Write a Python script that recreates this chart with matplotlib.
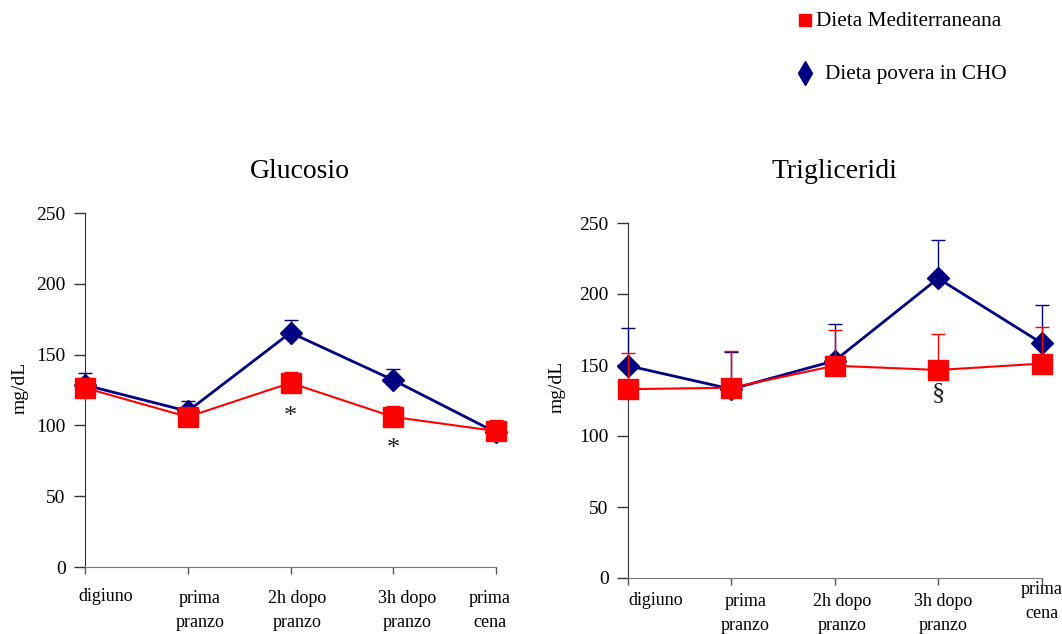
import matplotlib
matplotlib.use("Agg")
import matplotlib.pyplot as plt
from matplotlib.lines import Line2D
from matplotlib.transforms import ScaledTranslation

categories = ["digiuno", "prima\npranzo", "2h dopo\npranzo", "3h dopo\npranzo", "prima\ncena"]
yticks = [0, 50, 100, 150, 200, 250]

# Glucosio
glu_med = [126.5, 106, 130, 106, 96]
glu_med_err = [7, 0, 7.5, 8, 7.5]
glu_cho = [128.5, 110, 165.5, 132, 95]
glu_cho_err = [8.5, 7.5, 9, 8, 8]
glu_marks = [("*", 2, 106), ("*", 3, 83)]

# Trigliceridi
tri_med = [133, 134, 149.5, 146.5, 151]
tri_med_err = [25.5, 26, 25, 25.5, 25.5]
tri_cho = [149.5, 133, 153, 211, 165.5]
tri_cho_err = [26.5, 26, 26, 27, 26.5]
tri_marks = [("§", 3, 130)]

RED = "#FF0000"
NAVY = "#000080"
SERIF = ["Liberation Serif", "DejaVu Serif"]
plt.rcParams["font.family"] = SERIF

W, H = 1062, 634
fig = plt.figure(figsize=(W / 100, H / 100), dpi=100)


def panel(rect, title, title_xy, ylab_xy, med, med_err, cho, cho_err, marks,
          xoffs, yoffs):
    ax = fig.add_axes(rect)
    x = list(range(len(categories)))
    ax.errorbar(x, cho, yerr=[[0] * len(cho), cho_err], color=NAVY, lw=2,
                marker="D", ms=11, mfc=NAVY, mec=NAVY, ecolor=NAVY,
                elinewidth=1, capsize=5, capthick=1, clip_on=False, zorder=3)
    ax.errorbar(x, med, yerr=[[0] * len(med), med_err], color=RED, lw=1.5,
                marker="s", ms=14, mfc=RED, mec=RED, ecolor=RED,
                elinewidth=1, capsize=5, capthick=1, clip_on=False, zorder=4)
    for s, xi, yi in marks:
        ax.text(xi, yi, s, ha="center", va="center", fontsize=19, color="#202020")
    ax.set_xlim(0, len(categories) - 1)
    ax.set_ylim(0, 250)
    ax.set_yticks(yticks)
    ax.set_yticklabels([str(v) for v in yticks], fontsize=14)
    ax.set_xticks(x)
    ax.set_xticklabels(categories, fontsize=13, linespacing=1.55)
    for sp in ("top", "right"):
        ax.spines[sp].set_visible(False)
    ax.spines["left"].set_color("#333333")
    ax.spines["bottom"].set_color("#777777")
    ax.tick_params(axis="y", direction="out", length=8, width=1, color="#333333", pad=6)
    ax.tick_params(axis="x", direction="out", length=5, width=1, color="#555555", pad=8)
    for lab, dx, dy in zip(ax.get_xticklabels(), xoffs, yoffs):
        lab.set_transform(lab.get_transform() +
                          ScaledTranslation(dx / 100, -dy / 100, fig.dpi_scale_trans))
    fig.text(title_xy[0] / W, 1 - title_xy[1] / H, title, fontsize=20,
             ha="center", va="center")
    fig.text(ylab_xy[0] / W, 1 - ylab_xy[1] / H, "mg/dL", fontsize=14,
             ha="center", va="center", rotation=90)
    return ax


panel([85 / W, 1 - 567 / H, 411 / W, 354 / H], "Glucosio", (300, 172), (20, 388),
      glu_med, glu_med_err, glu_cho, glu_cho_err, glu_marks,
      [21, 12, 7, 14, -6], [3, 5, 5, 5, 5])
panel([628 / W, 1 - 578 / H, 413.5 / W, 355 / H], "Trigliceridi", (834, 172), (557, 387),
      tri_med, tri_med_err, tri_cho, tri_cho_err, tri_marks,
      [28, 14, 7, 5, 0], [-4, -3, -3, -3, -15])

# legend
fig.add_artist(Line2D([805 / W], [1 - 20 / H], marker="s", ms=8, color=RED, ls="none"))
fig.text(816 / W, 1 - 22 / H, "Dieta Mediterraneana", fontsize=15.3, va="center", ha="left")
fig.add_artist(Line2D([805 / W], [1 - 73 / H], marker="d", ms=12, color=NAVY, ls="none"))
fig.text(825 / W, 1 - 74 / H, "Dieta povera in CHO", fontsize=15.3, va="center", ha="left")

fig.savefig("out.png", dpi=100)
